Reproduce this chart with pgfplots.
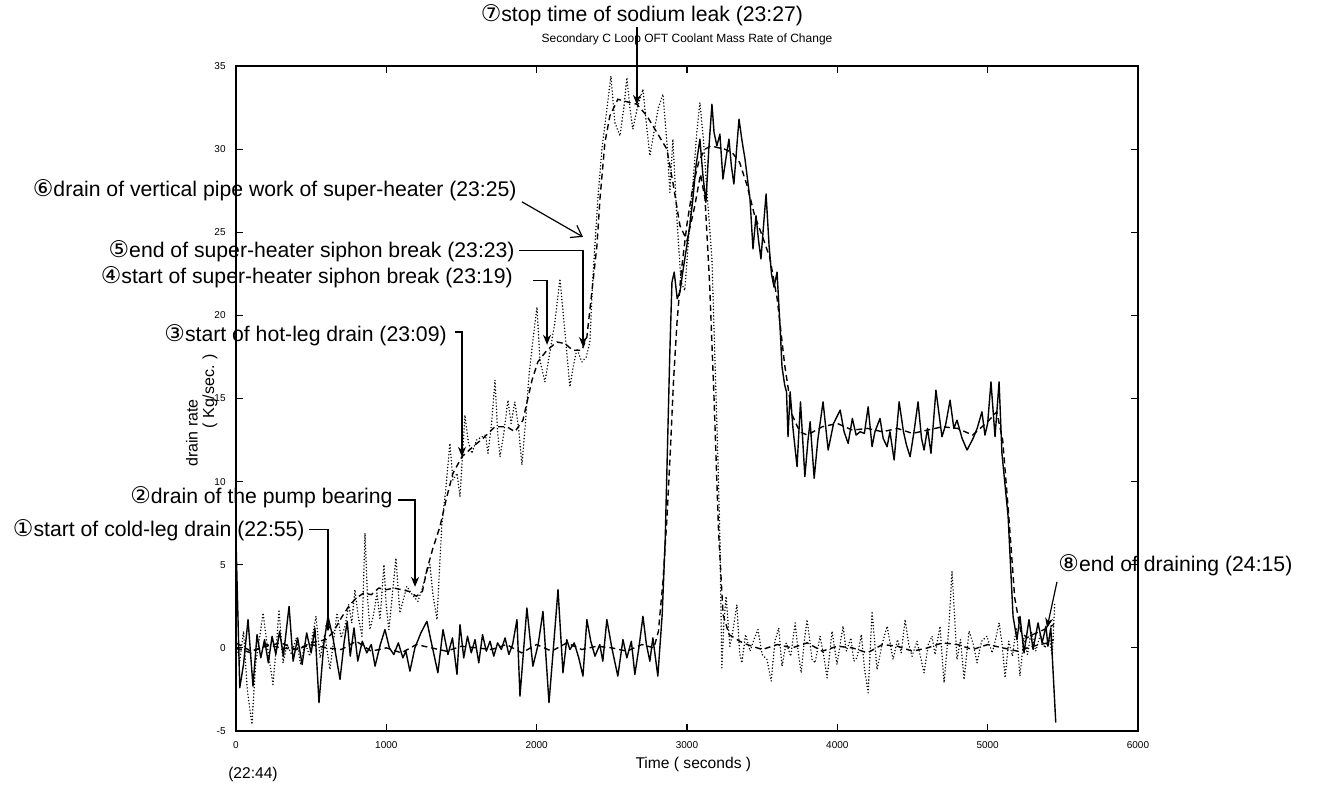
\documentclass[border=0pt]{standalone}
\usepackage{fontspec}
\setmainfont{Liberation Sans}
\newfontfamily\dejavu{DejaVu Sans}
\usepackage{pgfplots}
\usepackage{pgfplotstable}
\pgfplotsset{compat=1.18}
\usetikzlibrary{arrows.meta}
\newcommand{\cn}[1]{{\dejavu\fontsize{11.5}{12}\selectfont #1}}
\newcommand{\af}{\fontsize{10.6}{12}\selectfont}

\pgfplotstableread{
x y
0 6.5
25 -2.4
50 -1.0
80 1.7
113 -2.3
140 0.8
165 -0.6
190 0.5
215 -0.9
240 0.7
265 -0.4
290 1.0
315 -0.5
353 2.5
380 -0.8
410 0.6
440 -1.0
470 0.9
500 -0.3
525 1.2
552 -3.3
585 0.3
612 1.9
645 0.6
692 -1.9
720 0.4
740 1.6
760 -0.5
785 1.2
810 -0.8
840 0.4
870 -0.3
900 0.2
925 -1.1
960 0.2
991 1.1
1020 0.0
1050 -0.4
1080 0.3
1110 -0.6
1130 -0.2
1157 -1.4
1190 0.0
1230 0.9
1270 1.6
1300 0.3
1343 -1.5
1377 1.1
1410 -0.4
1440 0.6
1470 -1.6
1490 1.4
1515 -0.6
1540 0.7
1565 -0.3
1590 0.5
1615 -0.9
1640 0.8
1665 -0.2
1690 0.4
1715 -0.5
1740 0.3
1765 -0.1
1790 0.6
1815 -0.4
1840 0.2
1869 1.7
1889 -2.9
1935 2.4
1975 -1.1
2010 0.2
2042 2.2
2082 -3.3
2115 0.4
2142 3.5
2175 -1.5
2200 0.5
2221 -0.1
2250 0.3
2280 -0.6
2308 -1.7
2334 1.7
2360 0.4
2388 -0.5
2420 0.2
2440 -0.8
2467 1.7
2500 0.0
2540 -1.7
2574 0.5
2600 -0.6
2630 0.4
2653 -1.6
2680 0.0
2707 1.9
2730 0.2
2753 -0.8
2773 0.6
2806 -1.7
2835 2.0
2855 6.5
2870 12.0
2885 17.5
2900 22.0
2915 22.6
2935 21.0
2953 21.4
2975 22.8
2999 24.2
3020 25.5
3039 27.0
3060 29.0
3086 30.6
3105 28.5
3126 26.8
3145 30.0
3166 32.7
3180 31.0
3199 30.2
3219 30.9
3239 28.2
3260 29.5
3279 30.6
3295 29.0
3312 27.9
3330 30.0
3346 31.8
3366 30.5
3386 29.4
3405 28.0
3419 27.0
3439 24.0
3459 26.0
3476 24.5
3492 23.4
3510 25.5
3526 27.3
3546 24.2
3562 22.5
3579 21.7
3599 22.6
3619 19.3
3632 16.9
3650 15.8
3662 15.4
3672 12.7
3686 15.4
3705 13.2
3732 10.9
3755 14.8
3784 10.3
3805 12.5
3819 13.6
3846 10.2
3870 12.5
3905 14.8
3939 11.9
3975 13.5
4019 14.3
4045 13.0
4072 12.3
4100 13.8
4125 12.8
4152 13.0
4180 12.9
4205 14.5
4231 12.1
4250 13.0
4284 13.8
4305 12.6
4331 12.1
4350 13.0
4378 11.3
4411 14.8
4440 13.0
4460 12.2
4484 11.5
4510 13.0
4537 14.8
4560 12.6
4577 11.9
4600 13.2
4623 11.7
4656 15.5
4696 12.7
4720 13.4
4750 14.9
4775 13.2
4796 13.7
4830 12.6
4863 11.9
4903 12.6
4930 13.2
4962 14.2
4982 12.8
5000 13.5
5022 16.0
5049 12.7
5076 16.0
5095 11.7
5136 7.9
5169 1.9
5195 0.5
5215 1.9
5242 -0.3
5275 1.7
5302 -0.1
5335 1.5
5362 0.3
5388 1.3
5401 0.1
5420 1.2
5453 -4.5
}\solidA

\pgfplotstableread{
x y
0 0.3
100 -0.2
200 0.1
300 0.3
400 -0.1
500 0.2
600 0.0
700 -0.1
800 0.4
900 -0.2
1000 0.0
1100 -0.3
1200 0.2
1300 0.0
1400 -0.2
1500 0.1
1600 0.0
1700 -0.1
1800 0.2
1900 -0.3
2000 0.2
2100 -0.2
2200 0.3
2300 -0.1
2400 0.1
2500 0.0
2600 -0.2
2700 0.2
2780 0.0
2810 1.0
2840 4.0
2866 7.7
2890 12.0
2910 16.0
2933 19.5
2960 22.5
3000 25.5
3040 27.8
3080 29.3
3120 30.0
3160 30.2
3200 30.1
3250 30.0
3300 29.8
3350 29.2
3400 27.8
3450 26.0
3500 24.8
3550 23.5
3600 21.0
3650 17.0
3700 14.0
3750 13.0
3800 12.8
3900 13.3
4000 13.5
4100 13.1
4200 13.2
4300 13.0
4400 13.2
4500 12.9
4600 13.1
4700 13.3
4800 13.2
4900 12.8
5000 13.6
5060 14.2
5100 12.5
5140 8.0
5180 3.0
5220 1.0
5260 0.6
5300 0.8
5350 1.0
5400 1.2
5440 1.4
}\smoothA

\pgfplotstableread{
x y
0 0.3
25 -0.8
50 1.0
75 -2.5
106 -4.6
130 -1.0
155 0.5
180 2.1
210 0.0
246 -2.2
270 0.3
286 2.3
313 -0.9
340 0.2
370 -0.4
400 0.6
430 -1.0
460 0.3
490 -0.5
510 0.8
532 1.9
560 -0.6
590 0.8
625 -1.3
650 0.5
672 2.1
700 0.6
725 1.3
750 2.6
770 1.5
791 3.5
815 1.8
838 0.7
858 6.9
875 3.0
891 1.1
915 2.0
938 3.3
958 1.7
984 5.0
1000 2.5
1017 1.1
1040 3.2
1064 5.4
1090 2.1
1110 2.8
1137 3.7
1165 3.3
1190 3.0
1210 2.8
1240 3.6
1265 4.5
1290 5.0
1310 3.2
1337 1.7
1355 5.0
1370 7.5
1395 9.5
1423 12.3
1443 10.1
1470 10.5
1490 9.1
1523 14.0
1545 12.4
1569 11.7
1600 12.5
1636 12.7
1660 12.8
1676 11.7
1700 13.5
1723 16.1
1740 13.0
1756 11.5
1780 12.8
1809 14.9
1830 13.5
1855 14.8
1880 13.2
1902 11.0
1925 13.5
1950 16.5
1975 18.5
2002 20.5
2022 17.3
2055 16.0
2088 17.8
2120 19.5
2155 22.2
2188 19.0
2221 15.7
2245 17.0
2268 18.0
2301 17.2
2330 17.5
2354 18.4
2374 22.3
2407 27.0
2434 30.0
2467 32.4
2494 34.4
2520 31.6
2554 30.8
2580 32.5
2600 34.3
2620 32.5
2640 31.2
2670 32.5
2707 33.6
2730 31.5
2753 29.6
2780 31.0
2810 32.5
2840 33.3
2870 30.0
2886 27.4
2906 30.6
2933 25.8
2960 22.0
2985 21.5
3010 24.5
3040 28.0
3065 31.0
3086 32.8
3110 30.5
3133 27.4
3166 23.4
3186 17.3
3206 11.3
3219 6.5
3232 -1.2
3245 1.5
3260 3.1
3285 0.1
3305 1.0
3332 2.6
3350 -0.3
3365 -0.9
3390 0.8
3420 -0.2
3445 0.5
3472 1.1
3500 -0.4
3532 -0.7
3560 -2.0
3585 0.4
3610 1.2
3632 -1.1
3660 0.3
3690 -0.5
3719 1.5
3740 -0.3
3760 -1.5
3780 0.4
3799 1.7
3832 -0.7
3852 -0.9
3885 0.7
3910 -0.5
3932 -1.8
3965 1.0
3998 -1.0
4038 1.3
4060 -0.2
4090 0.6
4110 -0.8
4131 -0.6
4160 0.8
4180 -1.2
4205 -2.7
4231 2.2
4264 -1.3
4300 0.3
4331 1.3
4371 -0.7
4400 0.5
4425 -0.3
4451 1.7
4475 0.2
4497 -0.5
4530 0.4
4555 -0.6
4577 -1.5
4605 0.2
4630 0.7
4650 -0.4
4683 1.3
4710 -2.1
4740 1.0
4763 4.6
4796 -0.7
4820 0.5
4843 -1.9
4876 1.0
4905 0.2
4929 -0.9
4960 0.4
4995 0.7
5030 -0.3
5055 0.6
5076 1.5
5095 0.3
5116 -1.8
5140 0.4
5165 -0.5
5190 1.2
5215 -1.7
5240 0.6
5265 -0.4
5290 1.0
5320 -0.2
5350 0.8
5380 0.0
5410 0.6
5430 -0.5
5446 2.7
}\dottedB

\pgfplotstableread{
x y
0 0.0
100 -0.3
200 0.2
300 0.0
400 -0.1
500 0.3
600 0.5
650 1.0
700 1.8
750 2.5
800 3.0
850 3.3
900 3.2
950 3.6
1000 3.5
1050 3.6
1100 3.5
1150 3.4
1200 3.1
1240 3.4
1270 4.7
1310 6.0
1357 7.3
1400 9.0
1443 10.5
1503 11.5
1589 12.2
1643 12.6
1723 13.3
1802 13.3
1855 13.0
1909 13.7
1969 16.1
2008 17.2
2068 17.9
2135 18.4
2188 18.3
2241 17.9
2301 17.9
2334 18.7
2367 21.4
2401 24.2
2421 27.0
2454 30.4
2487 32.0
2540 33.0
2620 32.8
2667 32.7
2733 32.0
2800 31.0
2866 30.0
2906 28.0
2953 25.4
3000 24.5
3050 26.5
3090 28.5
3120 27.0
3150 22.0
3180 15.0
3210 7.0
3240 2.0
3280 0.8
3350 0.4
3400 0.2
3500 -0.1
3600 0.2
3700 0.0
3800 0.3
3900 -0.2
4000 0.1
4100 0.0
4200 -0.3
4300 0.2
4400 0.1
4500 -0.2
4600 0.0
4700 0.3
4800 0.2
4900 -0.1
5000 0.2
5100 0.0
5200 -0.2
5300 0.1
5400 0.3
5440 0.5
}\smoothB

\begin{document}
\begin{tikzpicture}
\useasboundingbox (-118pt,-28pt) rectangle (541.5pt,365.5pt);
\begin{axis}[
  width=451pt, height=332.5pt, scale only axis,
  xmin=0, xmax=6000, ymin=-5, ymax=35,
  xtick={0,1000,...,6000}, ytick={-5,0,...,35},
  tick align=inside, major tick length=3.5pt,
  axis line style={line width=0.7pt},
  every tick/.style={black, line width=0.6pt},
  /pgf/number format/assume math mode=true,
  /pgf/number format/set thousands separator={},
  scaled ticks=false,
  ticklabel style={font=\fontsize{5}{6}\selectfont, inner sep=0pt},
  xticklabel style={anchor=center, yshift=-7pt},
  yticklabel style={anchor=east, xshift=-5pt},
  clip=false,
  title={Secondary C Loop OFT Coolant Mass Rate of Change},
  title style={at={(axis description cs:0.5,1)}, anchor=south, inner sep=0pt, yshift=4.5pt, font=\fontsize{6}{7}\selectfont},
  xlabel={Time ( seconds )},
  xlabel style={at={(axis description cs:0.507,0)}, anchor=center, inner sep=0pt, yshift=-16.5pt, font=\fontsize{7.8}{9}\selectfont},
]
\addplot[black, line width=0.7pt, line join=round] table {\solidA};
\addplot[black, line width=0.7pt, dash pattern=on 3pt off 2pt] table {\smoothA};
\addplot[black, line width=0.8pt, line cap=round, dash pattern=on 0pt off 1.6pt] table {\dottedB};
\addplot[black, line width=0.7pt, dash pattern=on 3pt off 2pt] table {\smoothB};

% y label
\node[rotate=90, font=\fontsize{8}{9}\selectfont, inner sep=0pt] at ([xshift=-22pt]rel axis cs:0,0.448) {drain rate};
\node[rotate=90, font=\fontsize{8}{9}\selectfont, inner sep=0pt] at ([xshift=-13pt]rel axis cs:0,0.511) {( Kg/sec. )};
\node[font=\fontsize{7.8}{9}\selectfont, inner sep=0pt] at (axis cs:113,-7.64) {(22:44)};

% annotations
\node[font=\af, inner sep=0pt] at (axis cs:2700,38.08) {\cn{⑦}stop time of sodium leak (23:27)};
\draw[line width=0.6pt, -{Stealth[length=5pt,width=4pt]}] (axis cs:2667,37.35) -- (axis cs:2667,32.66);

\node[font=\af, inner sep=0pt, anchor=east] at (axis cs:1869,27.55) {\cn{⑥}drain of vertical pipe work of super-heater (23:25)};
\draw[line width=0.6pt, -{Straight Barb[length=5pt,width=7pt]}] (axis cs:1902,26.83) -- (axis cs:2308,24.72);

\node[font=\af, inner sep=0pt, anchor=east] at (axis cs:1856,23.88) {\cn{⑤}end of super-heater siphon break (23:23)};
\draw[line width=0.6pt, -{Stealth[length=5pt,width=4pt]}] (axis cs:1883,23.88) -- (axis cs:2308,23.88) -- (axis cs:2308,18.1);

\node[font=\af, inner sep=0pt, anchor=east] at (axis cs:1843,22.3) {\cn{④}start of super-heater siphon break (23:19)};
\draw[line width=0.6pt, -{Stealth[length=5pt,width=4pt]}] (axis cs:1976,22.1) -- (axis cs:2069,22.1) -- (axis cs:2069,18.23);

\node[font=\af, inner sep=0pt, anchor=east] at (axis cs:1404,18.83) {\cn{③}start of hot-leg drain (23:09)};
\draw[line width=0.6pt, -{Stealth[length=5pt,width=4pt]}] (axis cs:1457,19.0) -- (axis cs:1503,19.0) -- (axis cs:1503,11.49);

\node[font=\af, inner sep=0pt, anchor=east] at (axis cs:1044,9.08) {\cn{②}drain of the pump bearing};
\draw[line width=0.6pt, -{Stealth[length=5pt,width=4pt]}] (axis cs:1078,8.9) -- (axis cs:1191,8.9) -- (axis cs:1191,3.67);

\node[font=\af, inner sep=0pt, anchor=east] at (axis cs:459,7.1) {\cn{①}start of cold-leg drain (22:55)};
\draw[line width=0.6pt, -{Stealth[length=3pt,width=3pt]}] (axis cs:486,7.1) -- (axis cs:612,7.1) -- (axis cs:612,1.0);

\node[font=\af, inner sep=0pt, anchor=west] at (axis cs:5468,4.99) {\cn{⑧}end of draining (24:15)};
\draw[line width=0.6pt, -{Stealth[length=5pt,width=4pt]}] (axis cs:5461,3.97) -- (axis cs:5395,1.2);
\end{axis}
\end{tikzpicture}
\end{document}
